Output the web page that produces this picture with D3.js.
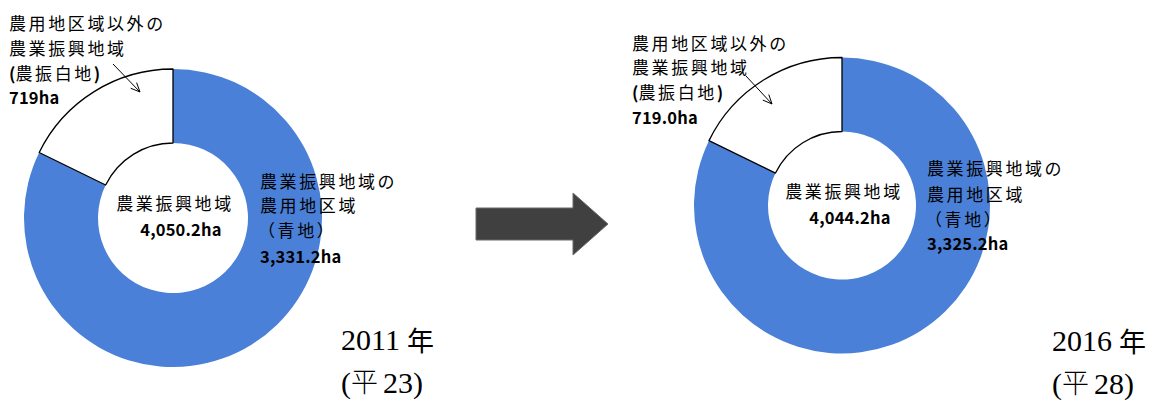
<!DOCTYPE html>
<html>
<head>
<meta charset="utf-8">
<script src="https://cdn.jsdelivr.net/npm/d3@7"></script>
<style>
  body { margin: 0; background: #fff; }
  svg { display: block; }
</style>
</head>
<body>
<svg id="chart" width="1168" height="403"></svg>
<script>
// 農業振興地域の内訳（ha）
const years = ["2011", "2016"];
const eraNumbers = ["23", "28"];
const aojiValues = [3331.2, 3325.2];        // 農業振興地域の農用地区域（青地）
const shirochiValues = [719, 719.0];         // 農用地区域以外の農業振興地域（農振白地）
const totalLabels = ["4,050.2ha", "4,044.2ha"];
const aojiLabels = ["3,331.2ha", "3,325.2ha"];
const shirochiLabels = ["719ha", "719.0ha"];

const sliceNames = ["青地", "白地"];
const sliceColors = { "青地": "#4a80d8", "白地": "#ffffff" };

const svg = d3.select("#chart");
const jpFont = "'Noto Sans CJK JP', 'Noto Sans', sans-serif";
const serifFont = "'Liberation Serif', 'DejaVu Serif', serif";

// Panel layout (donut centre, radii, label anchors)
const panels = [
  { cx: 173, cy: 218, r: 149, ir: 75,
    outX: 9, outY: [22, 47, 72, 97], arrow: [[113, 64], [140, 92]],
    sideX: 260, sideY: [180, 204, 229, 256],
    innerY: [202, 229], yearX: 341, yearY: [350, 393] },
  { cx: 842, cy: 205.5, r: 148, ir: 74,
    outX: 632, outY: [42, 66, 91, 117], arrow: [[746, 76], [772, 104]],
    sideX: 927, sideY: [167, 193, 218, 243],
    innerY: [190, 217], yearX: 1052, yearY: [351, 394] }
];

const pie = d3.pie().sort(null).value(d => d.value).startAngle(0).endAngle(2 * Math.PI);

function label(g, x, y, text, opts = {}) {
  return g.append("text")
    .attr("x", x).attr("y", y)
    .attr("dominant-baseline", "central")
    .attr("text-anchor", opts.anchor || "start")
    .attr("font-family", opts.family || jpFont)
    .attr("font-size", opts.size || 17)
    .attr("font-weight", opts.weight || 400)
    .attr("letter-spacing", opts.spacing != null ? opts.spacing : 2.6)
    .attr("fill", "#000")
    .text(text);
}

function numLabel(g, x, y, text, anchor) {
  return label(g, x, y, text, { weight: 700, spacing: 0.2, size: 16.5, anchor: anchor });
}

panels.forEach((p, i) => {
  const g = svg.append("g");
  const data = [
    { name: sliceNames[0], value: aojiValues[i] },
    { name: sliceNames[1], value: shirochiValues[i] }
  ];
  const arc = d3.arc().innerRadius(p.ir).outerRadius(p.r);
  const ring = g.append("g").attr("transform", `translate(${p.cx},${p.cy})`);
  ring.selectAll("path")
    .data(pie(data))
    .join("path")
    .attr("d", arc)
    .attr("fill", d => sliceColors[d.data.name])
    .attr("stroke", d => d.data.name === "白地" ? "#000" : "none")
    .attr("stroke-width", 1.3)
    .attr("stroke-linejoin", "round");

  // 白地 label (outside, upper left)
  label(g, p.outX, p.outY[0], "農用地区域以外の");
  label(g, p.outX, p.outY[1], "農業振興地域");
  const t3 = g.append("text")
    .attr("x", p.outX).attr("y", p.outY[2])
    .attr("dominant-baseline", "central")
    .attr("font-family", jpFont).attr("font-size", 17);
  t3.append("tspan").attr("font-weight", 700).text("(");
  t3.append("tspan").attr("letter-spacing", 2.6).text("農振白地");
  t3.append("tspan").attr("font-weight", 700).text(")");
  numLabel(g, p.outX, p.outY[3], shirochiLabels[i]);

  // pointer arrow into the 白地 slice
  const [a, b] = p.arrow;
  const ang = Math.atan2(b[1] - a[1], b[0] - a[0]);
  const hl = 10, ha = 0.42;
  const arrowPath = d3.path();
  arrowPath.moveTo(a[0], a[1]);
  arrowPath.lineTo(b[0], b[1]);
  arrowPath.moveTo(b[0] - hl * Math.cos(ang - ha), b[1] - hl * Math.sin(ang - ha));
  arrowPath.lineTo(b[0], b[1]);
  arrowPath.lineTo(b[0] - hl * Math.cos(ang + ha), b[1] - hl * Math.sin(ang + ha));
  g.append("path").attr("d", arrowPath.toString())
    .attr("fill", "none").attr("stroke", "#000").attr("stroke-width", 1);

  // centre total
  label(g, p.cx + 2, p.innerY[0], "農業振興地域", { anchor: "middle" });
  numLabel(g, p.cx + 8, p.innerY[1], totalLabels[i], "middle");

  // 青地 label (right side)
  label(g, p.sideX, p.sideY[0], "農業振興地域の");
  label(g, p.sideX, p.sideY[1], "農用地区域");
  label(g, p.sideX - 2, p.sideY[2], "（青地）", { spacing: 2.6 });
  numLabel(g, p.sideX, p.sideY[3], aojiLabels[i]);

  // year caption: "2011 年" / "(平 23)"
  const yr = g.append("text").attr("x", p.yearX).attr("y", p.yearY[0])
    .attr("font-family", serifFont).attr("font-size", 30).attr("fill", "#000")
    .text(years[i]);
  const yrEnd = p.yearX + yr.node().getComputedTextLength();
  g.append("text").attr("x", yrEnd + 7).attr("y", p.yearY[0] + 1)
    .attr("font-family", jpFont).attr("font-size", 27).attr("fill", "#000")
    .text("年");

  const open = g.append("text").attr("x", p.yearX).attr("y", p.yearY[1])
    .attr("font-family", serifFont).attr("font-size", 30).attr("fill", "#000")
    .text("(");
  const openEnd = p.yearX + open.node().getComputedTextLength();
  const hei = g.append("text").attr("x", openEnd).attr("y", p.yearY[1] - 1)
    .attr("font-family", jpFont).attr("font-size", 27).attr("font-weight", 300).attr("fill", "#000")
    .text("平");
  const heiEnd = openEnd + hei.node().getComputedTextLength();
  g.append("text").attr("x", heiEnd + 5).attr("y", p.yearY[1])
    .attr("font-family", serifFont).attr("font-size", 30).attr("fill", "#000")
    .text(eraNumbers[i] + ")");
});

// block arrow between the two years
const arrowShape = [[476, 208], [573, 208], [573, 193], [608, 224], [573, 255], [573, 240], [476, 240]];
svg.append("defs").append("filter").attr("id", "soft")
  .append("feGaussianBlur").attr("stdDeviation", 0.6);
svg.append("path")
  .attr("d", d3.line()(arrowShape) + "Z")
  .attr("fill", "#404040")
  .attr("stroke", "#6a6a6a")
  .attr("stroke-width", 1)
  .attr("filter", "url(#soft)");
</script>
</body>
</html>
